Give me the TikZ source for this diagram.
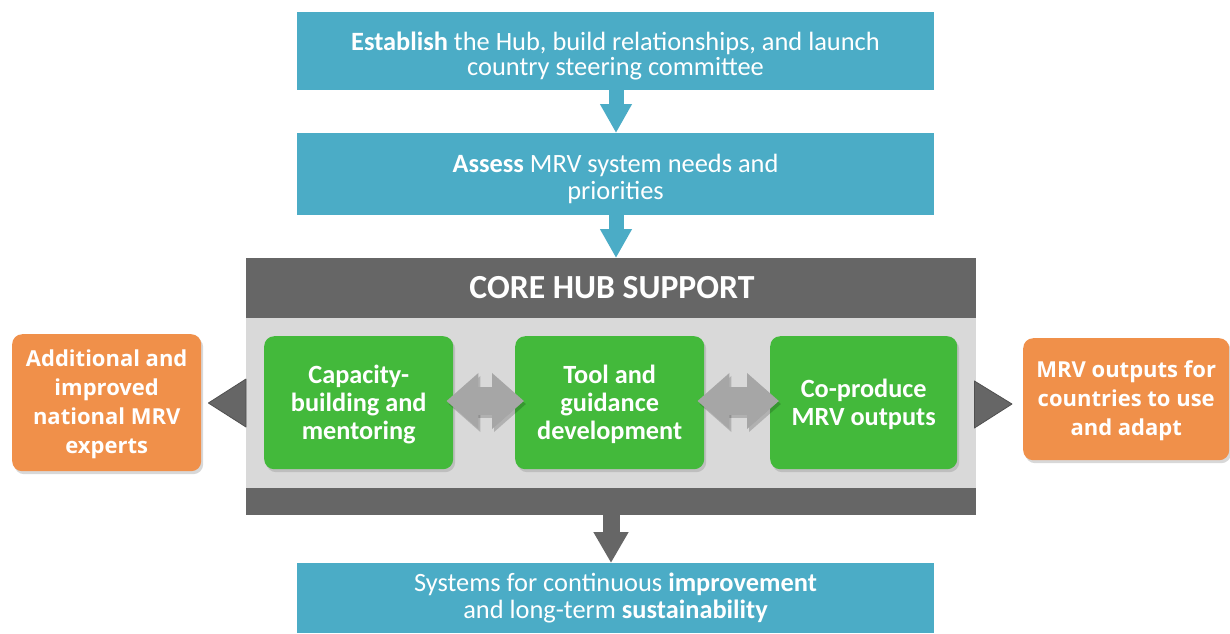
\documentclass[tikz,border=0pt]{standalone}
\usepackage{fontspec}
\setmainfont{Carlito}
\newfontfamily\osans{Open Sans}
\usetikzlibrary{arrows.meta,shadows,calc}
\definecolor{hubteal}{HTML}{4BACC6}
\definecolor{hubdark}{HTML}{666666}
\definecolor{hubdarkline}{HTML}{505050}
\definecolor{hublight}{HTML}{D9D9D9}
\definecolor{hubgreen}{HTML}{43B93B}
\definecolor{huborange}{HTML}{F0904A}
\definecolor{hubarrow}{HTML}{A6A6A6}
\tikzset{
  tealbox/.style={fill=hubteal, draw=none, anchor=north west, inner sep=0pt},
  darkbox/.style={fill=hubdark, draw=none, anchor=north west, inner sep=0pt},
  lightbox/.style={fill=hublight, draw=none, anchor=north west, inner sep=0pt},
  greenbox/.style={fill=hubgreen, draw=none, rounded corners=10pt, anchor=north west, inner sep=0pt,
     minimum width=189pt, minimum height=133pt,
     drop shadow={opacity=0.3, shadow xshift=2pt, shadow yshift=-3pt}},
  orangebox/.style={fill=huborange, draw=none, rounded corners=10pt, anchor=north west, inner sep=0pt,
     drop shadow={opacity=0.3, shadow xshift=2pt, shadow yshift=-3pt}},
  wtxt/.style={text=white, align=center, inner sep=0pt},
  downarrow/.style={draw=hubteal, line width=15pt, -{Triangle[length=29pt,width=30pt]}},
  darkdown/.style={draw=hubdark, line width=17pt, -{Triangle[length=31pt,width=33pt]}},
  dblarrow/.style={draw=hubarrow, line width=28pt, {Triangle[length=32pt,width=54pt]}-{Triangle[length=32pt,width=54pt]}},
  dblshadow/.style={draw=black, opacity=0.18, line width=28pt, {Triangle[length=32pt,width=54pt]}-{Triangle[length=32pt,width=54pt]}},
  tri/.style={fill=hubdark, draw=hubdarkline, line width=0.8pt, line join=round},
  greentxt/.style={wtxt, font=\fontsize{26.3}{28}\selectfont\bfseries},
  orangetxt/.style={wtxt, font=\fontsize{22}{29}\selectfont\osans\bfseries},
  tealtxt/.style={wtxt, font=\fontsize{26.4}{27}\selectfont},
}
\begin{document}
\begin{tikzpicture}[x=1pt,y=-1pt]
\useasboundingbox (0,0) rectangle (1230,633);
\fill[white] (0,0) rectangle (1230,633);

% teal boxes
\node[tealbox, minimum width=637pt, minimum height=78pt] (establish) at (297,12) {};
\node[tealtxt, font=\fontsize{26.4}{24.5}\selectfont] (establishtxt) at (615.5,56)
  {\textbf{Establish} the Hub, build relationships, and launch\\country steering committee};
\node[tealbox, minimum width=637pt, minimum height=82pt] (assess) at (297,133) {};
\node[tealtxt] (assesstxt) at (615.5,179)
  {\textbf{Assess} MRV system needs and\\priorities};
\node[tealbox, minimum width=637pt, minimum height=70pt] (systems) at (297,563) {};
\node[tealtxt] (systemstxt) at (615.5,598)
  {Systems for continuous \textbf{improvement}\\and long-term \textbf{sustainability}};

% core hub support
\node[darkbox, minimum width=730pt, minimum height=257pt] (core) at (246,258) {};
\node[lightbox, minimum width=730pt, minimum height=170pt] (inner) at (246,318) {};
\node[wtxt, font=\fontsize{33.7}{36}\selectfont\bfseries] (coretxt) at (612,288) {CORE HUB SUPPORT};

% green boxes
\node[greenbox] (cap) at (264,336) {};
\node[greentxt] at ([yshift=-2pt]cap.center) {Capacity-\\building and\\mentoring};
\node[greenbox] (tool) at (515,336) {};
\node[greentxt] at ([yshift=-2pt]tool.center) {Tool and\\guidance\\development};
\node[greenbox, minimum width=187pt] (coprod) at (770,336) {};
\node[greentxt] at ([yshift=-2pt]coprod.center) {Co-produce\\MRV outputs};

% orange boxes
\node[orangebox, minimum width=189pt, minimum height=137pt] (experts) at (12,334) {};
\node[orangetxt] at ([yshift=-2pt]experts.center)
  {Additional and\\improved\\national MRV\\experts};
\node[orangebox, minimum width=206pt, minimum height=122pt] (outputs) at (1023,338) {};
\node[orangetxt] at ([yshift=-2pt]outputs.center)
  {MRV outputs for\\countries to use\\and adapt};

% down arrows
\coordinate (axA) at (616,0);
\coordinate (axB) at (611,0);
\draw[downarrow] (establish.south -| axA) -- (assess.north -| axA);
\draw[downarrow] (assess.south -| axA) -- (core.north -| axA);
\draw[darkdown] (core.south -| axB) -- (systems.north -| axB);

% double arrows
\coordinate (dy) at (0,401);
\draw[dblshadow] ($(cap.east |- dy)+(-5,3)$) -- ($(tool.west |- dy)+(11,3)$);
\draw[dblarrow] ($(cap.east |- dy)+(-7,0)$) -- ($(tool.west |- dy)+(9,0)$);
\draw[dblshadow] ($(tool.east |- dy)+(-5,3)$) -- ($(coprod.west |- dy)+(11,3)$);
\draw[dblarrow] ($(tool.east |- dy)+(-7,0)$) -- ($(coprod.west |- dy)+(9,0)$);

% output triangles
\filldraw[tri] (core.west |- 0,379) -- ($(experts.east |- 0,403)+(7,0)$) -- (core.west |- 0,427) -- cycle;
\filldraw[tri] ($(core.east |- 0,381)+(-2,0)$) -- ($(outputs.west |- 0,404)+(-11,0)$) -- ($(core.east |- 0,428)+(-2,0)$) -- cycle;
\end{tikzpicture}
\end{document}
